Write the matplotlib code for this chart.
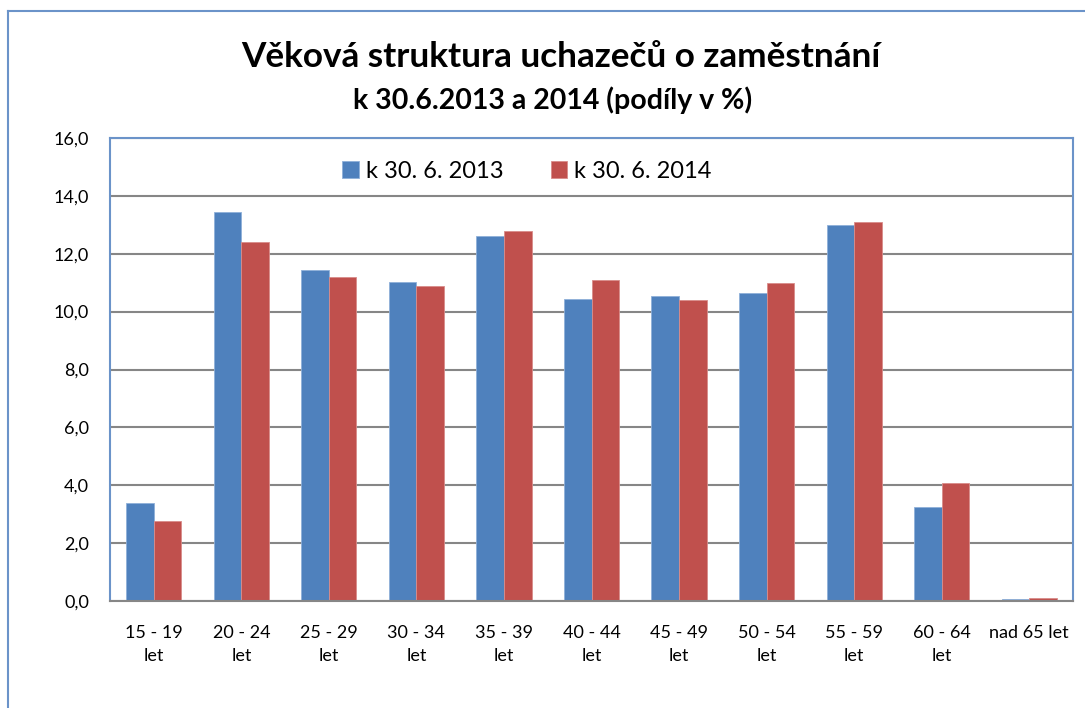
import numpy as np
import matplotlib.pyplot as plt
from matplotlib.lines import Line2D

plt.rcParams['font.family'] = ['Lato', 'DejaVu Sans']

# Data
categories = ["15 - 19\nlet", "20 - 24\nlet", "25 - 29\nlet", "30 - 34\nlet", "35 - 39\nlet",
              "40 - 44\nlet", "45 - 49\nlet", "50 - 54\nlet", "55 - 59\nlet", "60 - 64\nlet",
              "nad 65 let"]
share_2013 = [3.39, 13.45, 11.44, 11.04, 12.62, 10.45, 10.54, 10.63, 13.00, 3.24, 0.08]
share_2014 = [2.78, 12.39, 11.20, 10.88, 12.79, 11.08, 10.39, 10.99, 13.09, 4.09, 0.09]
series_names = ["k 30. 6. 2013", "k 30. 6. 2014"]
yticks = np.arange(0, 16.1, 2)

blue = "#4F81BD"
red = "#C0504D"

fig = plt.figure(figsize=(10.85, 7.08), dpi=100)
ax = fig.add_axes([110 / 1085, 1 - 601 / 708, 963 / 1085, 463 / 708])

# Outer chart frame
fig.add_artist(Line2D([8 / 1085, 8 / 1085], [0, 1 - 11 / 708], color="#6B93C9", lw=1.5))
fig.add_artist(Line2D([8 / 1085, 1.0], [1 - 11 / 708, 1 - 11 / 708], color="#6B93C9", lw=1.5))

x = np.arange(len(categories))
w = 0.315
ax.bar(x - w / 2, share_2013, w, color=blue, edgecolor="#8FB0D9", linewidth=0.6,
       label=series_names[0], zorder=3)
ax.bar(x + w / 2, share_2014, w, color=red, edgecolor="#D98C8A", linewidth=0.6,
       label=series_names[1], zorder=3)

ax.set_xlim(-0.5, len(categories) - 0.5)
ax.set_ylim(0, 16)
ax.set_yticks(yticks)
ax.set_yticklabels([f"{v:.1f}".replace(".", ",") for v in yticks], fontsize=13)
ax.set_xticks(x)
ax.set_xticklabels(categories, fontsize=13, linespacing=1.6)
ax.tick_params(axis="both", length=0)
ax.tick_params(axis="y", pad=15)
ax.tick_params(axis="x", pad=17)

ax.grid(axis="y", color="#868686", lw=1.5, zorder=1)
for side in ["left", "top", "right"]:
    ax.spines[side].set_color("#6B93C9")
    ax.spines[side].set_linewidth(1.5)
ax.spines["bottom"].set_color("#868686")
ax.spines["bottom"].set_linewidth(1.5)
ax.spines["bottom"].set_zorder(4)

leg = ax.legend(loc="center", bbox_to_anchor=(0.433, 0.928), ncol=2, frameon=False,
                fontsize=17, handlelength=0.7, handleheight=0.7, handletextpad=0.3,
                columnspacing=2.0)

fig.text(561 / 1085, 1 - 57 / 708, "Věková struktura uchazečů o zaměstnání",
         ha="center", va="center", fontsize=25.3, fontweight="bold")
fig.text(553 / 1085, 1 - 100 / 708, "k 30.6.2013 a 2014 (podíly v %)",
         ha="center", va="center", fontsize=20.5, fontweight="bold")

fig.savefig("out.png", dpi=100)
